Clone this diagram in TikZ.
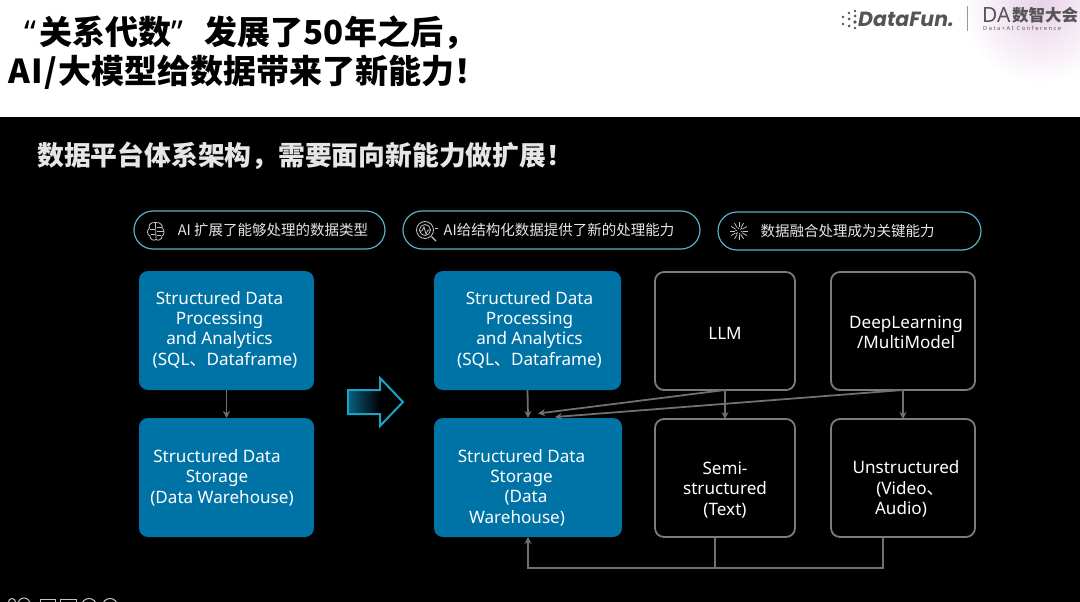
\documentclass[tikz,border=0pt]{standalone}
\usepackage{fontspec}
\setmainfont{Noto Sans}
\newfontfamily\cjk{Noto Sans CJK SC}
\newfontfamily\logofont{Poppins}
\newfontfamily\tinyfont[LetterSpace=28]{Noto Sans}
\usetikzlibrary{arrows.meta,calc}
\definecolor{bluebox}{HTML}{0073A6}
\definecolor{edgegray}{HTML}{6F7072}
\definecolor{framegray}{HTML}{7C7C7C}
\definecolor{pillline}{HTML}{5BAEC9}
\definecolor{logogray}{HTML}{555555}
\definecolor{textlight}{HTML}{E6E6E6}
\definecolor{arrowline}{HTML}{1BA3C6}
\definecolor{arrowfill}{HTML}{0A5F80}
% #1 horizontal shift (twice the amount), #2 downward shift, #3 lines
\newcommand\tb[3]{\raisebox{\dimexpr-4.5pt-#2\relax}[0pt][0pt]{\makebox[0pt]{\hspace*{#1}\fontsize{17.1}{20.3}\selectfont\begin{tabular}{@{}c@{}}#3\end{tabular}}}}
\newcommand\pilltext[2]{\makebox[0pt]{\hspace*{#1}\cjk\fontsize{14.5}{16}\selectfont #2}}
\newcommand\dun{{\cjk 、}}
\tikzset{
  blockbase/.style={rectangle,rounded corners=9pt,inner sep=0pt,outer sep=0pt,anchor=north west,text=white},
  bluecard/.style={blockbase,fill=bluebox},
  darkcard/.style={blockbase,draw=framegray,line width=1.8pt},
  pillbox/.style={rectangle,rounded corners=19pt,draw=pillline,line width=1.2pt,inner sep=0pt,outer sep=0pt,anchor=north west,text=textlight},
  link/.style={draw=edgegray,line width=1.8pt,-{Stealth[length=7pt,width=7pt]}},
  plainlink/.style={draw=edgegray,line width=1.8pt},
  iconline/.style={draw=textlight!85!black,line width=.8pt},
  titletext/.style={anchor=west,inner sep=0pt,font=\cjk\bfseries\fontsize{33}{36}\selectfont,text=black},
}
\begin{document}
\begin{tikzpicture}[x=1pt,y=-1pt]
\useasboundingbox (0,0) rectangle (1080,602);
\begin{scope}
\clip (0,0) rectangle (1080,602);
\fill[white] (0,0) rectangle (1080,118);
\begin{scope}
\clip (0,0) rectangle (1080,117);
\shade[inner color=violet!18!white,outer color=white] (1040,5) circle (78);
\end{scope}
\fill[black] (0,117) rectangle (1080,602);

% title
\node[titletext] (title1) at (24,33) {{\rmfamily\bfseries “}\hspace*{3pt}关系代数{\rmfamily\bfseries ”}\hspace*{22pt}发展了50年之后，};
\node[titletext] (title2) at (8,72) {A\hspace*{1.5pt}I\hspace*{1.5pt}/\hspace*{1pt}大模型给数据带来了新能力！};
\node[anchor=west,inner sep=0pt,font=\cjk\bfseries\fontsize{26.8}{30}\selectfont,text=textlight] (subtitle) at (37,156) {数据平台体系架构，需要面向新能力做扩展！};

% logos
\foreach \px/\py/\r in {843/17/1.3,849/13/1.3,855/11/1.3,843/24/1.3,849/19/1.5,855/16/1.5,849/26/1.5,855/22/1.8,855/28/1.3}
  \fill[logogray] (\px,\py) circle (\r);
\node[anchor=west,inner sep=0pt,font=\logofont\bfseries\itshape\fontsize{20.5}{24}\selectfont,text=logogray] (logoA) at (858,19) {DataFun.};
\draw[logogray!60,line width=.6pt] (967,6) -- (967,31);
\node[anchor=west,inner sep=0pt,font=\bfseries\fontsize{21}{24}\selectfont,text=logogray] (logoB) at (982,15) {DA};
\node[anchor=west,inner sep=0pt,font=\cjk\bfseries\fontsize{16.5}{18}\selectfont,text=logogray] (logoC) at (1012,15) {数智大会};
\node[anchor=west,inner sep=0pt,font=\tinyfont\fontsize{5.6}{6}\selectfont,text=logogray] (logoD) at (983,28.5) {Data+AI Conference};

% pills
\node[pillbox,minimum width=251pt,minimum height=38pt] (pillA) at (134,211) {\pilltext{27pt}{AI 扩展了能够处理的数据类型}};
\node[pillbox,minimum width=297pt,minimum height=38pt] (pillB) at (403,211) {\pilltext{15pt}{AI给结构化数据提供了新的处理能力}};
\node[pillbox,minimum width=263pt,minimum height=38pt] (pillC) at (718,212) {\pilltext{-4pt}{数据融合处理成为关键能力}};

% pill icons
\begin{scope}[iconline]
  \draw (155.5,222.5) .. controls (150,222) and (148,226) .. (149.5,228) .. controls (146.5,230) and (147,235) .. (150,236) .. controls (150,240) and (154,241) .. (156,239.5) -- cycle;
  \draw (155.5,222.5) .. controls (161,222) and (163,226) .. (162,228) .. controls (165,230) and (164.5,235) .. (162,236) .. controls (162,240) and (158,241) .. (156,239.5);
  \draw (150,229) -- (155,229) (151,234) -- (155,234) (157,227) -- (162,227) (157,231) -- (164,231) (157,235) -- (161,235);
  \draw (425,230) circle (8.5) (425,230) circle (5.5);
  \draw (419,231) -- (422,231) -- (424,227) -- (426,234) -- (428,230) -- (431,230);
  \draw[line width=1.2pt] (431.5,236.5) -- (436,241);
  \draw (435,228) -- (438,228);
  \foreach \a in {0,30,...,330} \draw (739,231) ++(\a:4) -- ++(\a:5);
  \foreach \a in {15,75,...,315} \draw (739,231) ++(\a:2) -- ++(\a:2);
\end{scope}

% cards
\node[bluecard,minimum width=175pt,minimum height=119pt] (leftTop) at (139,271) {\tb{-14pt}{0pt}{Structured Data\\Processing\\and Analytics\\\hspace*{11pt}(SQL\dun{}Dataframe)}};
\node[bluecard,minimum width=175pt,minimum height=119pt] (leftBottom) at (139,418) {\tb{-19pt}{1pt}{Structured Data\\Storage\\\hspace*{10pt}(Data Warehouse)}};
\node[bluecard,minimum width=187pt,minimum height=119pt] (midTop) at (434,271) {\tb{4pt}{0pt}{Structured Data\\Processing\\and Analytics\\(SQL\dun{}Dataframe)}};
\node[bluecard,minimum width=188pt,minimum height=119pt] (midBottom) at (434,418) {\tb{-13pt}{11pt}{Structured Data\\Storage\\\hspace*{9pt}(Data\\Warehouse)\hspace*{9pt}}};
\node[darkcard,minimum width=140pt,minimum height=118pt] (llm) at (655,272) {\tb{0pt}{4pt}{LLM}};
\node[darkcard,minimum width=144pt,minimum height=118pt] (deep) at (831,272) {\tb{6pt}{3.5pt}{DeepLearning\\/MultiModel}};
\node[darkcard,minimum width=140pt,minimum height=118pt] (semi) at (655,419) {\tb{0pt}{12.5pt}{Semi-\\structured\\(Text)}};
\node[darkcard,minimum width=144pt,minimum height=118pt] (unstr) at (831,419) {\tb{6pt}{12pt}{Unstructured\\\hspace*{8pt}(Video\dun\\Audio)\hspace*{10pt}}};

% transition arrow
\path[left color=arrowfill,right color=black] (348,390) rectangle (380,414);
\draw[draw=arrowline,line width=2pt,line join=miter] (348,390) -- (380,390) -- (380,378) -- (403,402) -- (380,426) -- (380,414) -- (348,414) -- cycle;

% connectors
\coordinate (inA) at (538,413.5);
\coordinate (inB) at (555,417);
\coordinate (busA) at (715,568);
\coordinate (busB) at (883,568);
\draw[link] (leftTop.south) -- (leftBottom.north);
\draw[link] (midTop.south) -- (midBottom.north);
\draw[link] (llm.south) -- (semi.north);
\draw[link] (deep.south) -- (unstr.north);
\draw[link] (llm.south) -- (inA);
\draw[link] (deep.south) -- (inB);
\draw[plainlink] (semi.south -| busA) -- (busA);
\draw[link] (unstr.south -| busB) -- (busB) -- (busB -| midBottom.south) -- (midBottom.south);

% cropped icons at the lower edge
\begin{scope}[iconline,line width=1pt]
  \draw (12,602) circle (3.5);
  \draw (24,604) circle (6);
  \draw (40,599.5) -- (55,599.5) -- (55,604) (40,599.5) -- (40,604);
  \draw (60,599.5) -- (76,599.5) -- (76,604) (60,599.5) -- (60,604);
  \draw (89,606) circle (7.5);
  \draw (110,606) circle (7.5);
\end{scope}
\end{scope}
\end{tikzpicture}
\end{document}
